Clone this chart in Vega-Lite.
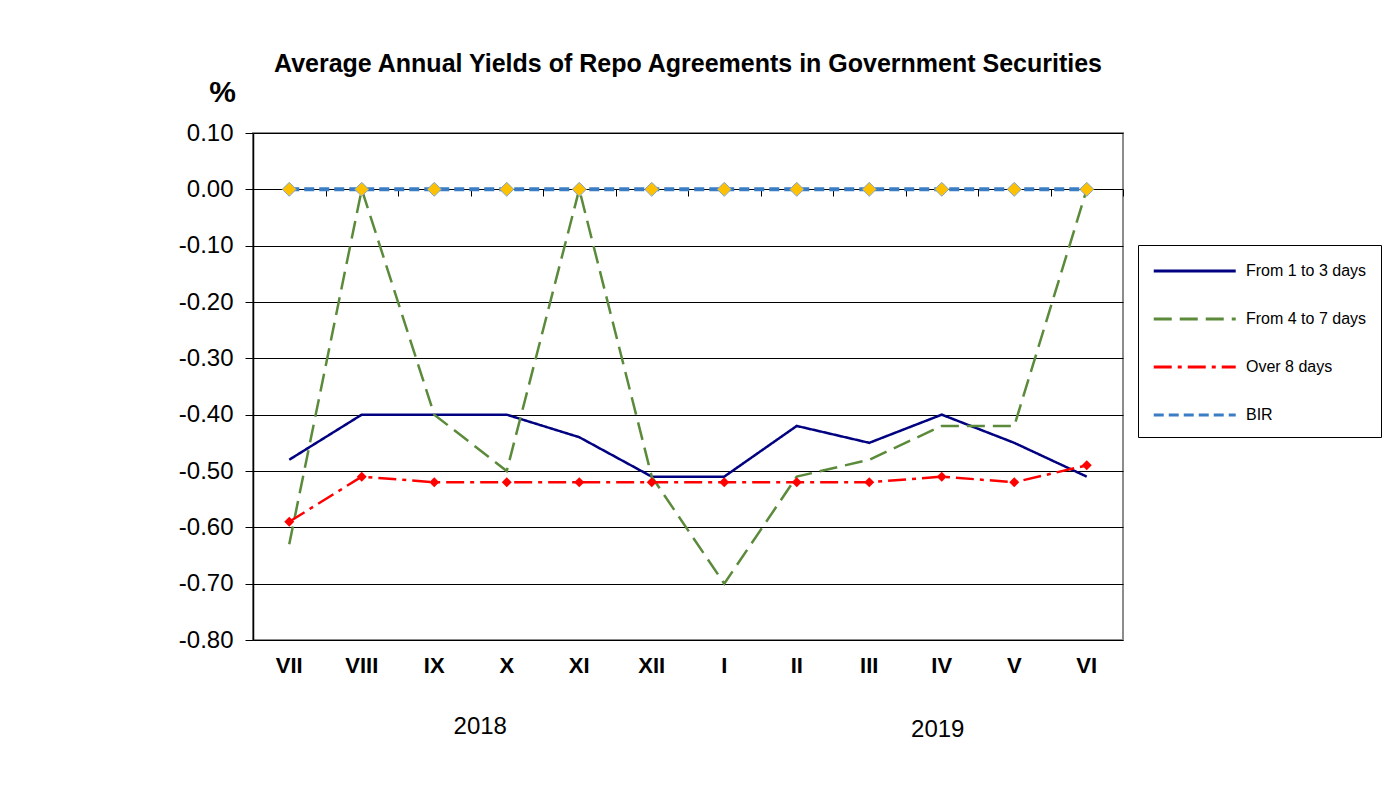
{
  "$schema": "https://vega.github.io/schema/vega-lite/v6.json",
  "width": 870,
  "height": 507,
  "autosize": {"type": "none"},
  "padding": {"left": 253, "top": 133, "right": 263, "bottom": 158},
  "background": "white",
  "config": {
    "font": "Liberation Sans",
    "view": {"stroke": "#8c8c8c", "strokeWidth": 2}
  },
  "title": {
    "text": "Average Annual Yields of Repo Agreements in Government Securities",
    "font": "Liberation Sans",
    "fontSize": 25,
    "fontWeight": "bold",
    "color": "black",
    "anchor": "middle",
    "offset": 0
  },
  "data": {
    "values": [
      {"month": "VII", "series": "From 1 to 3 days", "value": -0.48},
      {"month": "VIII", "series": "From 1 to 3 days", "value": -0.40},
      {"month": "IX", "series": "From 1 to 3 days", "value": -0.40},
      {"month": "X", "series": "From 1 to 3 days", "value": -0.40},
      {"month": "XI", "series": "From 1 to 3 days", "value": -0.44},
      {"month": "XII", "series": "From 1 to 3 days", "value": -0.51},
      {"month": "I", "series": "From 1 to 3 days", "value": -0.51},
      {"month": "II", "series": "From 1 to 3 days", "value": -0.42},
      {"month": "III", "series": "From 1 to 3 days", "value": -0.45},
      {"month": "IV", "series": "From 1 to 3 days", "value": -0.40},
      {"month": "V", "series": "From 1 to 3 days", "value": -0.45},
      {"month": "VI", "series": "From 1 to 3 days", "value": -0.51},
      {"month": "VII", "series": "From 4 to 7 days", "value": -0.63},
      {"month": "VIII", "series": "From 4 to 7 days", "value": 0.00},
      {"month": "IX", "series": "From 4 to 7 days", "value": -0.40},
      {"month": "X", "series": "From 4 to 7 days", "value": -0.50},
      {"month": "XI", "series": "From 4 to 7 days", "value": 0.00},
      {"month": "XII", "series": "From 4 to 7 days", "value": -0.51},
      {"month": "I", "series": "From 4 to 7 days", "value": -0.70},
      {"month": "II", "series": "From 4 to 7 days", "value": -0.51},
      {"month": "III", "series": "From 4 to 7 days", "value": -0.48},
      {"month": "IV", "series": "From 4 to 7 days", "value": -0.42},
      {"month": "V", "series": "From 4 to 7 days", "value": -0.42},
      {"month": "VI", "series": "From 4 to 7 days", "value": 0.00},
      {"month": "VII", "series": "Over 8 days", "value": -0.59},
      {"month": "VIII", "series": "Over 8 days", "value": -0.51},
      {"month": "IX", "series": "Over 8 days", "value": -0.52},
      {"month": "X", "series": "Over 8 days", "value": -0.52},
      {"month": "XI", "series": "Over 8 days", "value": -0.52},
      {"month": "XII", "series": "Over 8 days", "value": -0.52},
      {"month": "I", "series": "Over 8 days", "value": -0.52},
      {"month": "II", "series": "Over 8 days", "value": -0.52},
      {"month": "III", "series": "Over 8 days", "value": -0.52},
      {"month": "IV", "series": "Over 8 days", "value": -0.51},
      {"month": "V", "series": "Over 8 days", "value": -0.52},
      {"month": "VI", "series": "Over 8 days", "value": -0.49},
      {"month": "VII", "series": "BIR", "value": 0.00},
      {"month": "VIII", "series": "BIR", "value": 0.00},
      {"month": "IX", "series": "BIR", "value": 0.00},
      {"month": "X", "series": "BIR", "value": 0.00},
      {"month": "XI", "series": "BIR", "value": 0.00},
      {"month": "XII", "series": "BIR", "value": 0.00},
      {"month": "I", "series": "BIR", "value": 0.00},
      {"month": "II", "series": "BIR", "value": 0.00},
      {"month": "III", "series": "BIR", "value": 0.00},
      {"month": "IV", "series": "BIR", "value": 0.00},
      {"month": "V", "series": "BIR", "value": 0.00},
      {"month": "VI", "series": "BIR", "value": 0.00}
    ]
  },
  "resolve": {"axis": {"x": "independent"}},
  "layer": [
    {
      "transform": [{"filter": "datum.series !== 'BIR'"}],
      "mark": {"type": "line", "strokeCap": "butt", "strokeWidth": 2.5},
      "encoding": {
        "x": {
          "field": "month",
          "type": "ordinal",
          "scale": {"type": "band", "domain": ["VII", "VIII", "IX", "X", "XI", "XII", "I", "II", "III", "IV", "V", "VI"], "paddingInner": 0, "paddingOuter": 0},
          "axis": {
            "orient": "bottom",
            "title": null,
            "labelAngle": 0,
            "labelFontSize": 22,
            "labelFontWeight": "bold",
            "labelColor": "black",
            "labelPadding": 15,
            "ticks": false,
            "domain": false,
            "grid": false
          }
        },
        "y": {
          "field": "value",
          "type": "quantitative",
          "scale": {"domain": [-0.8, 0.1], "nice": false, "zero": false},
          "axis": {
            "title": "%",
            "titleAngle": 0,
            "titleFontSize": 30,
            "titleFontWeight": "bold",
            "titleColor": "black",
            "titleX": -31,
            "titleY": -41,
            "titleAlign": "center",
            "titleBaseline": "middle",
            "values": [0.1, 0, -0.1, -0.2, -0.3, -0.4, -0.5, -0.6, -0.7, -0.8],
            "labelExpr": "replace(format(datum.value, '.2f'), '\u2212', '-')",
            "labelFontSize": 24,
            "labelColor": "black",
            "labelPadding": 12,
            "tickSize": 8,
            "tickColor": "black",
            "domainColor": "black",
            "domainWidth": 1.5,
            "gridColor": "black",
            "gridWidth": 1,
            "gridOpacity": 1
          }
        },
        "color": {
          "field": "series",
          "type": "nominal",
          "scale": {
            "domain": ["From 1 to 3 days", "From 4 to 7 days", "Over 8 days", "BIR"],
            "range": ["#000080", "#5a8a3a", "#ff0000", "#3a7dc4"]
          },
          "legend": {
            "orient": "none",
            "legendX": 885,
            "legendY": 112,
            "title": null,
            "strokeColor": "black",
            "fillColor": "white",
            "padding": 14,
            "labelFontSize": 16,
            "labelColor": "black",
            "labelLimit": 0,
            "labelOffset": 70,
            "symbolType": "M-1,0H7",
            "symbolSize": 420,
            "symbolStrokeWidth": 3,
            "rowPadding": 28
          }
        },
        "strokeDash": {
          "field": "series",
          "type": "nominal",
          "scale": {
            "domain": ["From 1 to 3 days", "From 4 to 7 days", "Over 8 days", "BIR"],
            "range": [[1, 0], [18, 8], [18, 6, 4, 6], [10, 5]]
          }
        }
      }
    },
    {
      "transform": [{"filter": "datum.series === 'BIR'"}],
      "mark": {"type": "line", "strokeCap": "butt", "strokeWidth": 4},
      "encoding": {
        "x": {"field": "month", "type": "ordinal", "axis": null},
        "y": {"field": "value", "type": "quantitative"},
        "color": {"field": "series", "type": "nominal"},
        "strokeDash": {"field": "series", "type": "nominal"}
      }
    },
    {
      "transform": [{"filter": "datum.series === 'Over 8 days'"}],
      "mark": {"type": "point", "shape": "diamond", "filled": true, "color": "#ff0000", "size": 100, "opacity": 1},
      "encoding": {
        "x": {"field": "month", "type": "ordinal", "axis": null},
        "y": {"field": "value", "type": "quantitative"}
      }
    },
    {
      "transform": [{"filter": "datum.series === 'BIR'"}],
      "mark": {"type": "point", "shape": "diamond", "filled": true, "fill": "#ffc000", "stroke": "#7fa6d6", "strokeWidth": 1, "size": 196, "opacity": 1, "fillOpacity": 1},
      "encoding": {
        "x": {"field": "month", "type": "ordinal", "axis": null},
        "y": {"field": "value", "type": "quantitative"}
      }
    },
    {
      "data": {"values": [{"year": "2018", "month": "IX", "base": -0.8}]},
      "mark": {"type": "text", "fontSize": 24, "color": "black", "dx": 46, "dy": 87, "baseline": "middle"},
      "encoding": {
        "x": {
          "field": "month",
          "type": "ordinal",
          "axis": {
            "orient": "top",
            "offset": -56,
            "title": null,
            "labels": false,
            "domain": false,
            "grid": false,
            "ticks": true,
            "tickBand": "extent",
            "tickSize": -7,
            "tickColor": "black",
            "tickWidth": 1
          }
        },
        "y": {"field": "base", "type": "quantitative"},
        "text": {"field": "year"}
      }
    },
    {
      "data": {"values": [{"year": "2019", "month": "IV", "base": -0.8}]},
      "mark": {"type": "text", "fontSize": 24, "color": "black", "dx": -4, "dy": 90, "baseline": "middle"},
      "encoding": {
        "x": {"field": "month", "type": "ordinal", "axis": null},
        "y": {"field": "base", "type": "quantitative"},
        "text": {"field": "year"}
      }
    }
  ]
}
